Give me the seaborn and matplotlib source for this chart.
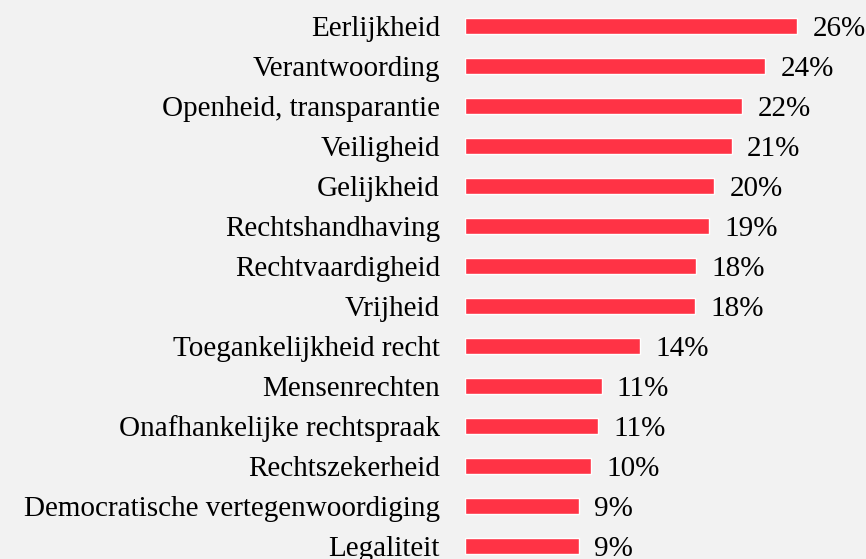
import matplotlib
matplotlib.use("Agg")
import matplotlib.pyplot as plt
import seaborn as sns
import pandas as pd

categories = [
    "Eerlijkheid",
    "Verantwoording",
    "Openheid, transparantie",
    "Veiligheid",
    "Gelijkheid",
    "Rechtshandhaving",
    "Rechtvaardigheid",
    "Vrijheid",
    "Toegankelijkheid recht",
    "Mensenrechten",
    "Onafhankelijke rechtspraak",
    "Rechtszekerheid",
    "Democratische vertegenwoordiging",
    "Legaliteit",
]
values = [26.0, 23.5, 21.7, 20.9, 19.5, 19.1, 18.1, 18.0, 13.7, 10.7, 10.4, 9.9, 8.9, 8.9]
value_labels = ["26%", "24%", "22%", "21%", "20%", "19%", "18%", "18%",
                "14%", "11%", "11%", "10%", "9%", "9%"]

df = pd.DataFrame({"categorie": categories, "waarde": values})

bg = "#F2F2F2"
bar_color = "#FF3345"
font = "Liberation Serif"

sns.set_theme(style="white")
plt.rcParams["font.family"] = [font, "DejaVu Serif"]

fig = plt.figure(figsize=(8.66, 5.59), dpi=100)
fig.patch.set_facecolor(bg)
ax = fig.add_axes([465 / 866, 0, 1 - 465 / 866, 1])
ax.set_facecolor(bg)

sns.barplot(data=df, x="waarde", y="categorie", color=bar_color,
            saturation=1, width=0.42, ax=ax)

# waardelabels naast de balken
for bar, lab in zip(ax.patches, value_labels):
    ax.annotate(lab, (bar.get_width(), bar.get_y() + bar.get_height() / 2),
                xytext=(11, 0), textcoords="offset points",
                ha="left", va="center_baseline",
                fontsize=21, color="black", fontfamily=font)

ax.set_xlim(0, 31.4)
ax.set_ylim(13.325, -0.65)
ax.set_xlabel("")
ax.set_ylabel("")
ax.set_xticks([])
ax.tick_params(axis="y", length=0, pad=18, labelsize=21, labelcolor="black")
for t in ax.get_yticklabels():
    t.set_verticalalignment("center_baseline")
    t.set_fontfamily(font)
sns.despine(ax=ax, left=True, bottom=True)

fig.savefig("out.png", dpi=100, facecolor=bg)
